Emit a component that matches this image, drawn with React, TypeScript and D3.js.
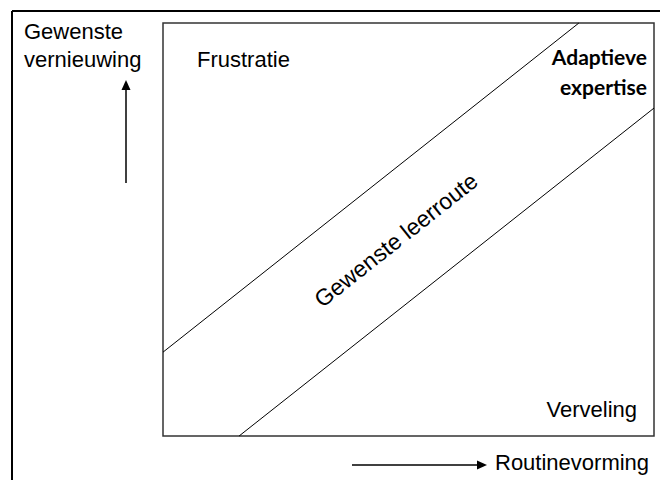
import React from 'react';
import * as d3 from 'd3';

// Diagram values in unit space (0..1 on both axes of the inner box)
const bandEdges: [number, number][][] = [
  [[0, 0.203], [0.847, 1]],
  [[0.155, 0], [1, 0.794]],
];
const cornerLabels = ['Frustratie', 'Verveling'];
const bandLabel = 'Gewenste leerroute';
const targetLabel = ['Adaptieve', 'expertise'];
const yAxisLabel = ['Gewenste', 'vernieuwing'];
const xAxisLabel = 'Routinevorming';

const W = 660;
const H = 480;
const box = { left: 163, top: 23, right: 654, bottom: 436 };
const font = '"Liberation Sans", Arial, sans-serif';

const App: React.FC = () => {
  const x = d3.scaleLinear().domain([0, 1]).range([box.left, box.right]);
  const y = d3.scaleLinear().domain([0, 1]).range([box.bottom, box.top]);
  const line = d3.line<[number, number]>().x(d => x(d[0])).y(d => y(d[1]));

  // angle of the band in pixel space
  const e = bandEdges[0];
  const angle = (Math.atan2(y(e[1][1]) - y(e[0][1]), x(e[1][0]) - x(e[0][0])) * 180) / Math.PI;
  const lx = x(0.4745);
  const ly = y(0.4746);

  return (
    <svg width={W} height={H} style={{ position: 'absolute', left: 0, top: 0, background: '#fff' }}>
      {/* outer frame (only top and left visible) */}
      <line x1={12} y1={11} x2={W} y2={11} stroke="#000" strokeWidth={2} />
      <line x1={12} y1={11} x2={12} y2={H} stroke="#000" strokeWidth={2} />

      {/* inner box */}
      <rect x={box.left} y={box.top} width={box.right - box.left} height={box.bottom - box.top}
        fill="none" stroke="#333" strokeWidth={1.5} />

      {bandEdges.map((d, i) => (
        <path key={i} d={line(d) || ''} fill="none" stroke="#000" strokeWidth={1} />
      ))}

      <text x={lx} y={ly} transform={`rotate(${angle},${lx},${ly})`} textAnchor="middle"
        dominantBaseline="central" fontFamily={font} fontSize={23}>{bandLabel}</text>

      <text x={197} y={67} fontFamily={font} fontSize={22}>{cornerLabels[0]}</text>
      <text x={637} y={417} textAnchor="end" fontFamily={font} fontSize={22}>{cornerLabels[1]}</text>

      {targetLabel.map((t, i) => (
        <text key={t} x={647} y={65 + i * 30} textAnchor="end" fontFamily="Lato, 'Open Sans', sans-serif"
          fontWeight="bold" fontSize={21}>{t}</text>
      ))}

      {yAxisLabel.map((t, i) => (
        <text key={t} x={24} y={39 + i * 28} fontFamily={font} fontSize={22}>{t}</text>
      ))}

      {/* vertical arrow */}
      <line x1={126} y1={183} x2={126} y2={88} stroke="#000" strokeWidth={1.5} />
      <path d="M126,80 L121.5,90 L130.5,90 Z" fill="#000" />

      {/* horizontal arrow */}
      <line x1={352} y1={465} x2={479} y2={465} stroke="#000" strokeWidth={1.5} />
      <path d="M487,465 L477,460.5 L477,469.5 Z" fill="#000" />
      <text x={495} y={470} fontFamily={font} fontSize={22}>{xAxisLabel}</text>
    </svg>
  );
};

export default App;
